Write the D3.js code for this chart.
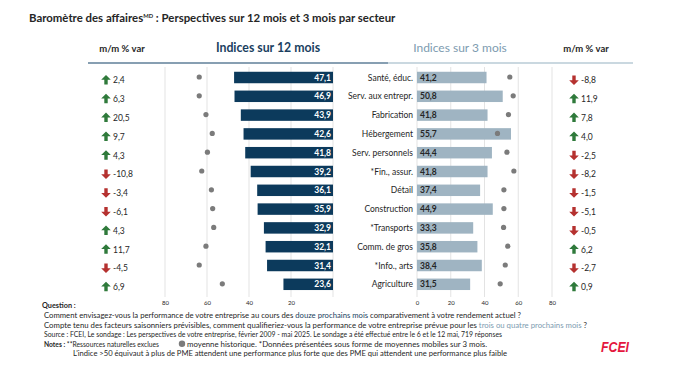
<!DOCTYPE html>
<html><head><meta charset="utf-8">
<script src="https://cdn.jsdelivr.net/npm/d3@7"></script>
<style>
html,body{margin:0;padding:0;background:#fff;}
svg{display:block;font-family:Lato,"Open Sans",sans-serif;}
</style></head>
<body>
<svg id="chart" width="673" height="383"></svg>
<script>
const categories = ["Santé, éduc.", "Serv. aux entrepr.", "Fabrication", "Hébergement", "Serv. personnels", "*Fin., assur.", "Détail", "Construction", "*Transports", "Comm. de gros", "*Info., arts", "Agriculture"];
const idx12 = [47.1, 46.9, 43.9, 42.6, 41.8, 39.2, 36.1, 35.9, 32.9, 32.1, 31.4, 23.6];
const chg12 = [2.4, 6.3, 20.5, 9.7, 4.3, -10.8, -3.4, -6.1, 4.3, 11.7, -4.5, 6.9];
const hist12 = [63.7, 63.7, 60.5, 57.5, 59.8, 62.5, 57.9, 57.3, 56.8, 60.5, 63.7, 52.7];
const idx3 = [41.2, 50.8, 41.8, 55.7, 44.4, 41.8, 37.4, 44.9, 33.3, 35.8, 38.4, 31.5];
const chg3 = [-8.8, 11.9, 7.8, 4.0, -2.5, -8.2, -1.5, -5.1, -0.5, 6.2, -2.7, 0.9];
const hist3 = [55.0, 57.0, 54.2, 47.7, 53.3, 57.4, 51.5, 51.5, 51.3, 53.8, 52.3, 49.3];
const ticks12 = [80, 60, 40, 20];
const ticks3 = [0, 20, 40, 60, 80];

const C = {
  dark: "#0c3a5c", light: "#9fb4c2", dot: "#7b7b7b", up: "#2f7a3b", down: "#b5312f",
  text: "#262626", grid: "#e3e3e3", h12: "#1b3f61", h3: "#7d9bb0", logo: "#e4173e"
};
const fmt = v => d3.format(".1f")(v).replace(".", ",").replace("−", "-");

const svg = d3.select("#chart");

const x12 = d3.scaleLinear().domain([0, 80]).range([333, 165]);
const x3 = d3.scaleLinear().domain([0, 80]).range([417, 552]);
const y = d3.scaleBand().domain(categories).range([68.1, 293.7]).paddingInner(0.39).paddingOuter(0.195);
const bh = y.bandwidth();
const cy = c => y(c) + bh / 2;

// Title
const title = svg.append("text").attr("x", 29).attr("y", 22).attr("fill", C.text)
  .attr("font-size", 11.4).attr("font-weight", 700);
title.append("tspan").text("Baromètre des affaires");
title.append("tspan").text("MD").attr("font-size", 5.8).attr("dy", -4);
title.append("tspan").text(" : Perspectives sur 12 mois et 3 mois par secteur").attr("dy", 4);

// Headers
svg.append("text").attr("x", 122).attr("y", 52).attr("text-anchor", "middle").attr("font-size", 9.5).attr("font-weight", 700).attr("fill", C.text).text("m/m % var");
svg.append("text").attr("x", 268).attr("y", 52).attr("text-anchor", "middle").attr("font-size", 12.3).attr("font-weight", 700).attr("fill", C.h12).text("Indices sur 12 mois");
svg.append("text").attr("x", 460).attr("y", 52).attr("text-anchor", "middle").attr("font-size", 12).attr("fill", C.h3).text("Indices sur 3 mois");
svg.append("text").attr("x", 586).attr("y", 52).attr("text-anchor", "middle").attr("font-size", 9.5).attr("font-weight", 700).attr("fill", C.text).text("m/m % var");
svg.append("line").attr("x1", 88).attr("x2", 388).attr("y1", 63).attr("y2", 63).attr("stroke", "#5f7f98").attr("stroke-width", 1.5);
svg.append("line").attr("x1", 388).attr("x2", 633).attr("y1", 63).attr("y2", 63).attr("stroke", "#b9cbd6").attr("stroke-width", 1.5);

// Grid
svg.append("g").selectAll("line").data(ticks12.concat([0])).join("line")
  .attr("x1", d => x12(d)).attr("x2", d => x12(d)).attr("y1", 67).attr("y2", 297)
  .attr("stroke", C.grid).attr("stroke-width", 1);
svg.append("g").selectAll("line").data(ticks3).join("line")
  .attr("x1", d => x3(d)).attr("x2", d => x3(d)).attr("y1", 67).attr("y2", 297)
  .attr("stroke", C.grid).attr("stroke-width", 1);

// Axes
const ax12 = svg.append("g").attr("transform", "translate(0,298)")
  .call(d3.axisBottom(x12).tickValues(ticks12).tickSize(0).tickPadding(3));
const ax3 = svg.append("g").attr("transform", "translate(0,298)")
  .call(d3.axisBottom(x3).tickValues(ticks3).tickSize(0).tickPadding(3));
[ax12, ax3].forEach(a => {
  a.select(".domain").remove();
  a.selectAll("text").attr("font-size", 6).attr("fill", C.text).attr("font-family", "Lato,sans-serif");
});

// 12-month bars
svg.append("g").selectAll("rect").data(categories).join("rect")
  .attr("x", (c, i) => x12(idx12[i])).attr("y", c => y(c))
  .attr("width", (c, i) => x12(0) - x12(idx12[i])).attr("height", bh).attr("fill", C.dark);
svg.append("g").selectAll("text").data(categories).join("text")
  .attr("x", x12(0) - 2).attr("y", c => cy(c) + 3).attr("text-anchor", "end")
  .attr("font-size", 8.5).attr("font-weight", 700).attr("fill", "#fff").text((c, i) => fmt(idx12[i]));
svg.append("g").selectAll("circle").data(categories).join("circle")
  .attr("cx", (c, i) => x12(hist12[i])).attr("cy", c => cy(c) - 0.5).attr("r", 2.6).attr("fill", C.dot);

// 3-month bars
svg.append("g").selectAll("rect").data(categories).join("rect")
  .attr("x", x3(0)).attr("y", c => y(c))
  .attr("width", (c, i) => x3(idx3[i]) - x3(0)).attr("height", bh).attr("fill", C.light);
svg.append("g").selectAll("text").data(categories).join("text")
  .attr("x", x3(0) + 3).attr("y", c => cy(c) + 3)
  .attr("font-size", 8.5).attr("font-weight", 700).attr("fill", C.text).text((c, i) => fmt(idx3[i]));
svg.append("g").selectAll("circle").data(categories).join("circle")
  .attr("cx", (c, i) => x3(hist3[i])).attr("cy", c => cy(c) - 0.5).attr("r", 2.6).attr("fill", C.dot);

// Category labels
svg.append("g").selectAll("text").data(categories).join("text")
  .attr("x", 413).attr("y", c => cy(c) + 3).attr("text-anchor", "end")
  .attr("font-size", 8.5).attr("fill", C.text).text(c => c);

// Arrows & changes
function arrow(cx, cyy, up) {
  const s = up ? 1 : -1;
  const p = d3.path();
  p.moveTo(cx, cyy - 5 * s);
  p.lineTo(cx + 4.8, cyy - 0.2 * s);
  p.lineTo(cx + 1.7, cyy - 0.2 * s);
  p.lineTo(cx + 1.7, cyy + 4.5 * s);
  p.lineTo(cx - 1.7, cyy + 4.5 * s);
  p.lineTo(cx - 1.7, cyy - 0.2 * s);
  p.lineTo(cx - 4.8, cyy - 0.2 * s);
  p.closePath();
  return p.toString();
}
function changes(arr, ax, tx) {
  const g = svg.append("g");
  g.selectAll("path").data(categories).join("path")
    .attr("d", (c, i) => arrow(ax, cy(c) + 2.5, arr[i] >= 0))
    .attr("fill", (c, i) => arr[i] >= 0 ? C.up : C.down);
  g.selectAll("text").data(categories).join("text")
    .attr("x", tx).attr("y", c => cy(c) + 5.8)
    .attr("font-size", 8.5).attr("fill", C.text).text((c, i) => fmt(arr[i]));
}
changes(chg12, 106, 113);
changes(chg3, 574, 581);

// Footnotes
const fs = 7.3;
function line(x, yy, parts, width) {
  const t = svg.append("text").attr("x", x).attr("y", yy).attr("font-size", fs).attr("fill", C.text);
  parts.forEach(p => {
    const ts = t.append("tspan").text(p.t);
    if (p.b) ts.attr("font-weight", 700);
    if (p.c) ts.attr("fill", p.c);
  });
  if (width) t.attr("textLength", width).attr("lengthAdjust", "spacingAndGlyphs");
  return t;
}
line(42, 308, [{ t: "Question :", b: 1 }]);
line(44, 318, [{ t: "Comment envisagez-vous la performance de votre entreprise au cours des " }, { t: "douze prochains mois", c: C.h12 }, { t: " comparativement à votre rendement actuel ?" }], 477);
line(44, 327.5, [{ t: "Compte tenu des facteurs saisonniers prévisibles, comment qualifieriez-vous la performance  de votre entreprise prévue pour les " }, { t: "trois ou quatre prochains mois", c: C.h3 }, { t: " ?" }], 543);
line(44, 337, [{ t: "Source : FCEI, Le sondage : Les perspectives de votre entreprise, février 2009 - mai 2025. Le sondage a été effectué entre le 6 et le 12 mai, 719 réponses" }], 458);
line(44, 346.5, [{ t: "Notes : ", b: 1 }, { t: "**Ressources naturelles exclues" }], 115);
svg.append("circle").attr("cx", 182).attr("cy", 343.8).attr("r", 3.2).attr("fill", C.dot);
line(187, 346.5, [{ t: "moyenne historique. *Données présentées sous forme de moyennes mobiles sur 3 mois." }], 300);
line(73, 356, [{ t: "L'indice >50 équivaut à plus de PME attendent une performance plus forte que des PME qui attendent une performance plus faible" }], 434);

// Logo
svg.append("text").attr("x", 601).attr("y", 352).attr("font-size", 14).attr("font-weight", 900)
  .attr("font-style", "italic").attr("fill", C.logo).attr("font-family", "'Liberation Sans',Arial,sans-serif")
  .attr("textLength", 28).attr("lengthAdjust", "spacingAndGlyphs").text("FCEI");
</script>
</body></html>
